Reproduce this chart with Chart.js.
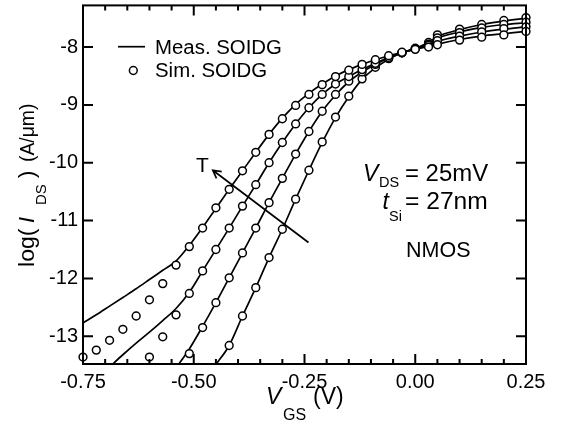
<!DOCTYPE html>
<html><head><meta charset="utf-8">
<script src="https://cdn.jsdelivr.net/npm/chart.js@4.4.1/dist/chart.umd.min.js"></script>
<style>html,body{margin:0;padding:0;background:#fff}#wrap{width:561px;height:423px}</style>
</head><body><div id="wrap"><canvas id="c" width="561" height="423"></canvas></div>
<script>
// ---- data (VGS in V, log10 of IDS in A/um) ----
const vgs = [-0.75,-0.72,-0.69,-0.66,-0.63,-0.60,-0.57,-0.54,-0.51,-0.48,-0.45,-0.42,-0.39,-0.36,-0.33,-0.30,-0.27,-0.24,-0.21,-0.18,-0.15,-0.12,-0.09,-0.06,-0.03,0.00,0.03,0.05,0.10,0.15,0.20,0.25];
const N = null;
// simulated (circles), curves from highest T (left) to lowest T (right)
const simT1 = [-13.36,-13.24,-13.07,-12.88,-12.65,-12.37,-12.09,-11.77,-11.45,-11.13,-10.78,-10.46,-10.14,-9.82,-9.51,-9.24,-9.01,-8.82,-8.65,-8.51,-8.40,-8.30,-8.22,-8.15,-8.09,-8.04,-8.00,-7.96,-7.88,-7.83,-7.79,-7.73];
const simT2 = [N,N,N,N,N,-13.36,-13.01,-12.63,-12.26,-11.87,-11.50,-11.13,-10.75,-10.38,-10.00,-9.65,-9.33,-9.05,-8.82,-8.64,-8.51,-8.39,-8.28,-8.18,-8.10,-8.03,-7.97,-7.89,-7.81,-7.74,-7.68,-7.65];
const simT3 = [N,N,N,N,N,N,N,N,-13.30,-12.85,-12.42,-11.99,-11.56,-11.13,-10.69,-10.27,-9.85,-9.46,-9.11,-8.82,-8.59,-8.43,-8.30,-8.19,-8.10,-8.03,-7.95,-7.84,-7.75,-7.67,-7.61,-7.57];
const simT4 = [N,N,N,N,N,N,N,N,N,N,N,-13.16,-12.65,-12.16,-11.64,-11.15,-10.63,-10.13,-9.64,-9.21,-8.85,-8.55,-8.35,-8.20,-8.10,-8.02,-7.92,-7.79,-7.69,-7.61,-7.54,-7.49];
// measured (lines)
const measT1 = [-12.77,-12.63,-12.48,-12.33,-12.18,-12.02,-11.86,-11.70,-11.43,-11.12,-10.79,-10.46,-10.14,-9.82,-9.51,-9.23,-8.99,-8.80,-8.64,-8.50,-8.39,-8.30,-8.22,-8.15,-8.09,-8.04,-7.99,-7.95,-7.87,-7.81,-7.77,-7.73];
const measT2 = [N,N,-13.53,-13.32,-13.12,-12.93,-12.73,-12.52,-12.24,-11.87,-11.50,-11.13,-10.75,-10.38,-10.00,-9.65,-9.33,-9.05,-8.82,-8.64,-8.51,-8.39,-8.28,-8.18,-8.10,-8.03,-7.96,-7.90,-7.81,-7.74,-7.69,-7.65];
const measT3 = [N,N,N,N,N,N,N,-13.55,-13.22,-12.83,-12.42,-11.99,-11.56,-11.13,-10.69,-10.27,-9.85,-9.46,-9.11,-8.83,-8.60,-8.43,-8.30,-8.19,-8.10,-8.03,-7.95,-7.85,-7.74,-7.66,-7.61,-7.58];
const measT4 = [N,N,N,N,N,N,N,N,N,N,-13.49,-13.16,-12.65,-12.16,-11.64,-11.15,-10.63,-10.13,-9.65,-9.22,-8.86,-8.56,-8.36,-8.21,-8.10,-8.02,-7.92,-7.82,-7.70,-7.61,-7.55,-7.50];
// axes
const xRange = [-0.75, 0.25];
const yRange = [-13.48, -7.28];
const xTicks = [-0.75,-0.50,-0.25,0.00,0.25];
const xMinor = [-0.70,-0.65,-0.60,-0.55,-0.45,-0.40,-0.35,-0.30,-0.20,-0.15,-0.10,-0.05,0.05,0.10,0.15,0.20];
const yTicks = [-13,-12,-11,-10,-9,-8];
// temperature arrow annotation (data coordinates)
const arrowTail = [-0.241, -11.38];
const arrowHead = [-0.457, -10.13];

const FONT = '"Liberation Sans", Arial, Helvetica, sans-serif';
const pts = ys => vgs.map((x,i)=>({x:x, y:ys[i]})).filter(p=>p.y!==null);

function txt(ctx, s, x, y, size, italic, sx){
  ctx.save();
  ctx.font = (italic?'italic ':'') + size + 'px ' + FONT;
  ctx.textBaseline = 'alphabetic';
  ctx.textAlign = 'left';
  ctx.fillStyle = '#000';
  ctx.translate(x, y);
  ctx.scale(sx||1, 1);
  ctx.fillText(s, 0, 0);
  ctx.restore();
}

const decor = {
  id:'decor',
  afterDraw(chart){
    const ctx = chart.ctx;
    const a = chart.chartArea;
    const xs = chart.scales.x, ys = chart.scales.y;
    ctx.save();
    ctx.strokeStyle = '#000';
    ctx.lineWidth = 2;
    ctx.strokeRect(a.left, a.top, a.right-a.left, a.bottom-a.top);
    ctx.beginPath();
    const tick = (x1,y1,x2,y2)=>{ctx.moveTo(x1,y1);ctx.lineTo(x2,y2);};
    xTicks.forEach(v=>{const p=xs.getPixelForValue(v); tick(p,a.bottom,p,a.bottom-10); tick(p,a.top,p,a.top+10);});
    xMinor.forEach(v=>{const p=xs.getPixelForValue(v); tick(p,a.bottom,p,a.bottom-5); tick(p,a.top,p,a.top+5);});
    yTicks.forEach(v=>{const p=ys.getPixelForValue(v); tick(a.left,p,a.left+10,p); tick(a.right,p,a.right-10,p);});
    ctx.stroke();

    // arrow
    const tx = xs.getPixelForValue(arrowTail[0]), ty = ys.getPixelForValue(arrowTail[1]);
    const hx = xs.getPixelForValue(arrowHead[0]), hy = ys.getPixelForValue(arrowHead[1]);
    ctx.lineWidth = 1.7;
    ctx.beginPath(); ctx.moveTo(tx,ty); ctx.lineTo(hx,hy);
    const ang = Math.atan2(hy-ty, hx-tx);
    const L = 9, w = 0.5;
    ctx.moveTo(hx - L*Math.cos(ang-w), hy - L*Math.sin(ang-w)); ctx.lineTo(hx,hy);
    ctx.lineTo(hx - L*Math.cos(ang+w), hy - L*Math.sin(ang+w));
    ctx.stroke();
    txt(ctx, 'T', 196, 172, 21);

    // legend
    ctx.lineWidth = 1.7;
    ctx.beginPath(); ctx.moveTo(118, 46.7); ctx.lineTo(145, 46.7); ctx.stroke();
    ctx.lineWidth = 1.5;
    ctx.beginPath(); ctx.arc(133.3, 70.5, 3.9, 0, Math.PI*2); ctx.fillStyle='#fff'; ctx.fill(); ctx.stroke();
    txt(ctx, 'Meas. SOIDG', 155, 53.5, 20, false, 1.02);
    txt(ctx, 'Sim. SOIDG', 155, 77.3, 20, false, 1.02);

    // annotations
    txt(ctx, 'V', 363, 181, 23, true);
    txt(ctx, 'DS', 379, 186.7, 14.5);
    txt(ctx, '= 25mV', 405, 181, 23, false, 1.04);
    txt(ctx, 't', 382.5, 208.5, 23, true);
    txt(ctx, 'Si', 389, 221, 14.5);
    txt(ctx, '= 27nm', 405, 208.5, 23, false, 1.07);
    txt(ctx, 'NMOS', 406, 256.7, 21.5);

    // x title
    txt(ctx, 'V', 266, 404, 23, true);
    txt(ctx, 'GS', 283, 420, 16);
    txt(ctx, '(V)', 313, 404, 23);

    // y title (rotated)
    ctx.save();
    ctx.translate(34, 267);
    ctx.rotate(-Math.PI/2);
    txt(ctx, 'log(', 0, 0, 22, false, 1.05);
    txt(ctx, 'I', 44, 0, 22, true);
    txt(ctx, 'DS', 62, 12, 15);
    txt(ctx, ')', 89, 0, 22);
    txt(ctx, '(A/\u03BCm)', 105, 0, 21, false, 0.92);
    ctx.restore();
    ctx.restore();
  }
};

const simSets = [simT1, simT2, simT3, simT4].map(s=>({
  type:'scatter', data:pts(s), showLine:false, clip:false,
  pointRadius:3.9, pointBorderWidth:1.5, pointBorderColor:'#000', pointBackgroundColor:'#fff',
  pointHoverRadius:3.9, order:0
}));
const measSets = [measT1, measT2, measT3, measT4].map(m=>({
  type:'line', data:pts(m), borderColor:'#000', borderWidth:1.7, pointRadius:0,
  fill:false, cubicInterpolationMode:'monotone', order:1
}));

new Chart(document.getElementById('c').getContext('2d'), {
  type:'scatter',
  data:{datasets:[...simSets, ...measSets]},
  options:{
    responsive:false, animation:false, events:[],
    layout:{padding:{top:5, right:35, left:0, bottom:0}},
    plugins:{legend:{display:false}, tooltip:{enabled:false}},
    scales:{
      x:{type:'linear', min:xRange[0], max:xRange[1],
        grid:{display:false, drawTicks:false}, border:{display:false},
        ticks:{font:{family:FONT, size:20}, color:'#000', padding:6, maxRotation:0, autoSkip:false,
          callback:v=>Number(v).toFixed(2)},
        afterBuildTicks:s=>{s.ticks = xTicks.map(v=>({value:v}));},
        afterFit:s=>{s.height = 59; s.paddingLeft=0; s.paddingRight=0; s.paddingTop=0; s.paddingBottom=0;}
      },
      y:{type:'linear', min:yRange[0], max:yRange[1],
        grid:{display:false, drawTicks:false}, border:{display:false},
        ticks:{font:{family:FONT, size:20}, color:'#000', padding:5, autoSkip:false,
          callback:v=>String(v)},
        afterBuildTicks:s=>{s.ticks = yTicks.map(v=>({value:v}));},
        afterFit:s=>{s.width = 83; s.paddingLeft=0; s.paddingRight=0; s.paddingTop=0; s.paddingBottom=0;}
      }
    }
  },
  plugins:[decor]
});
</script>
</body></html>
